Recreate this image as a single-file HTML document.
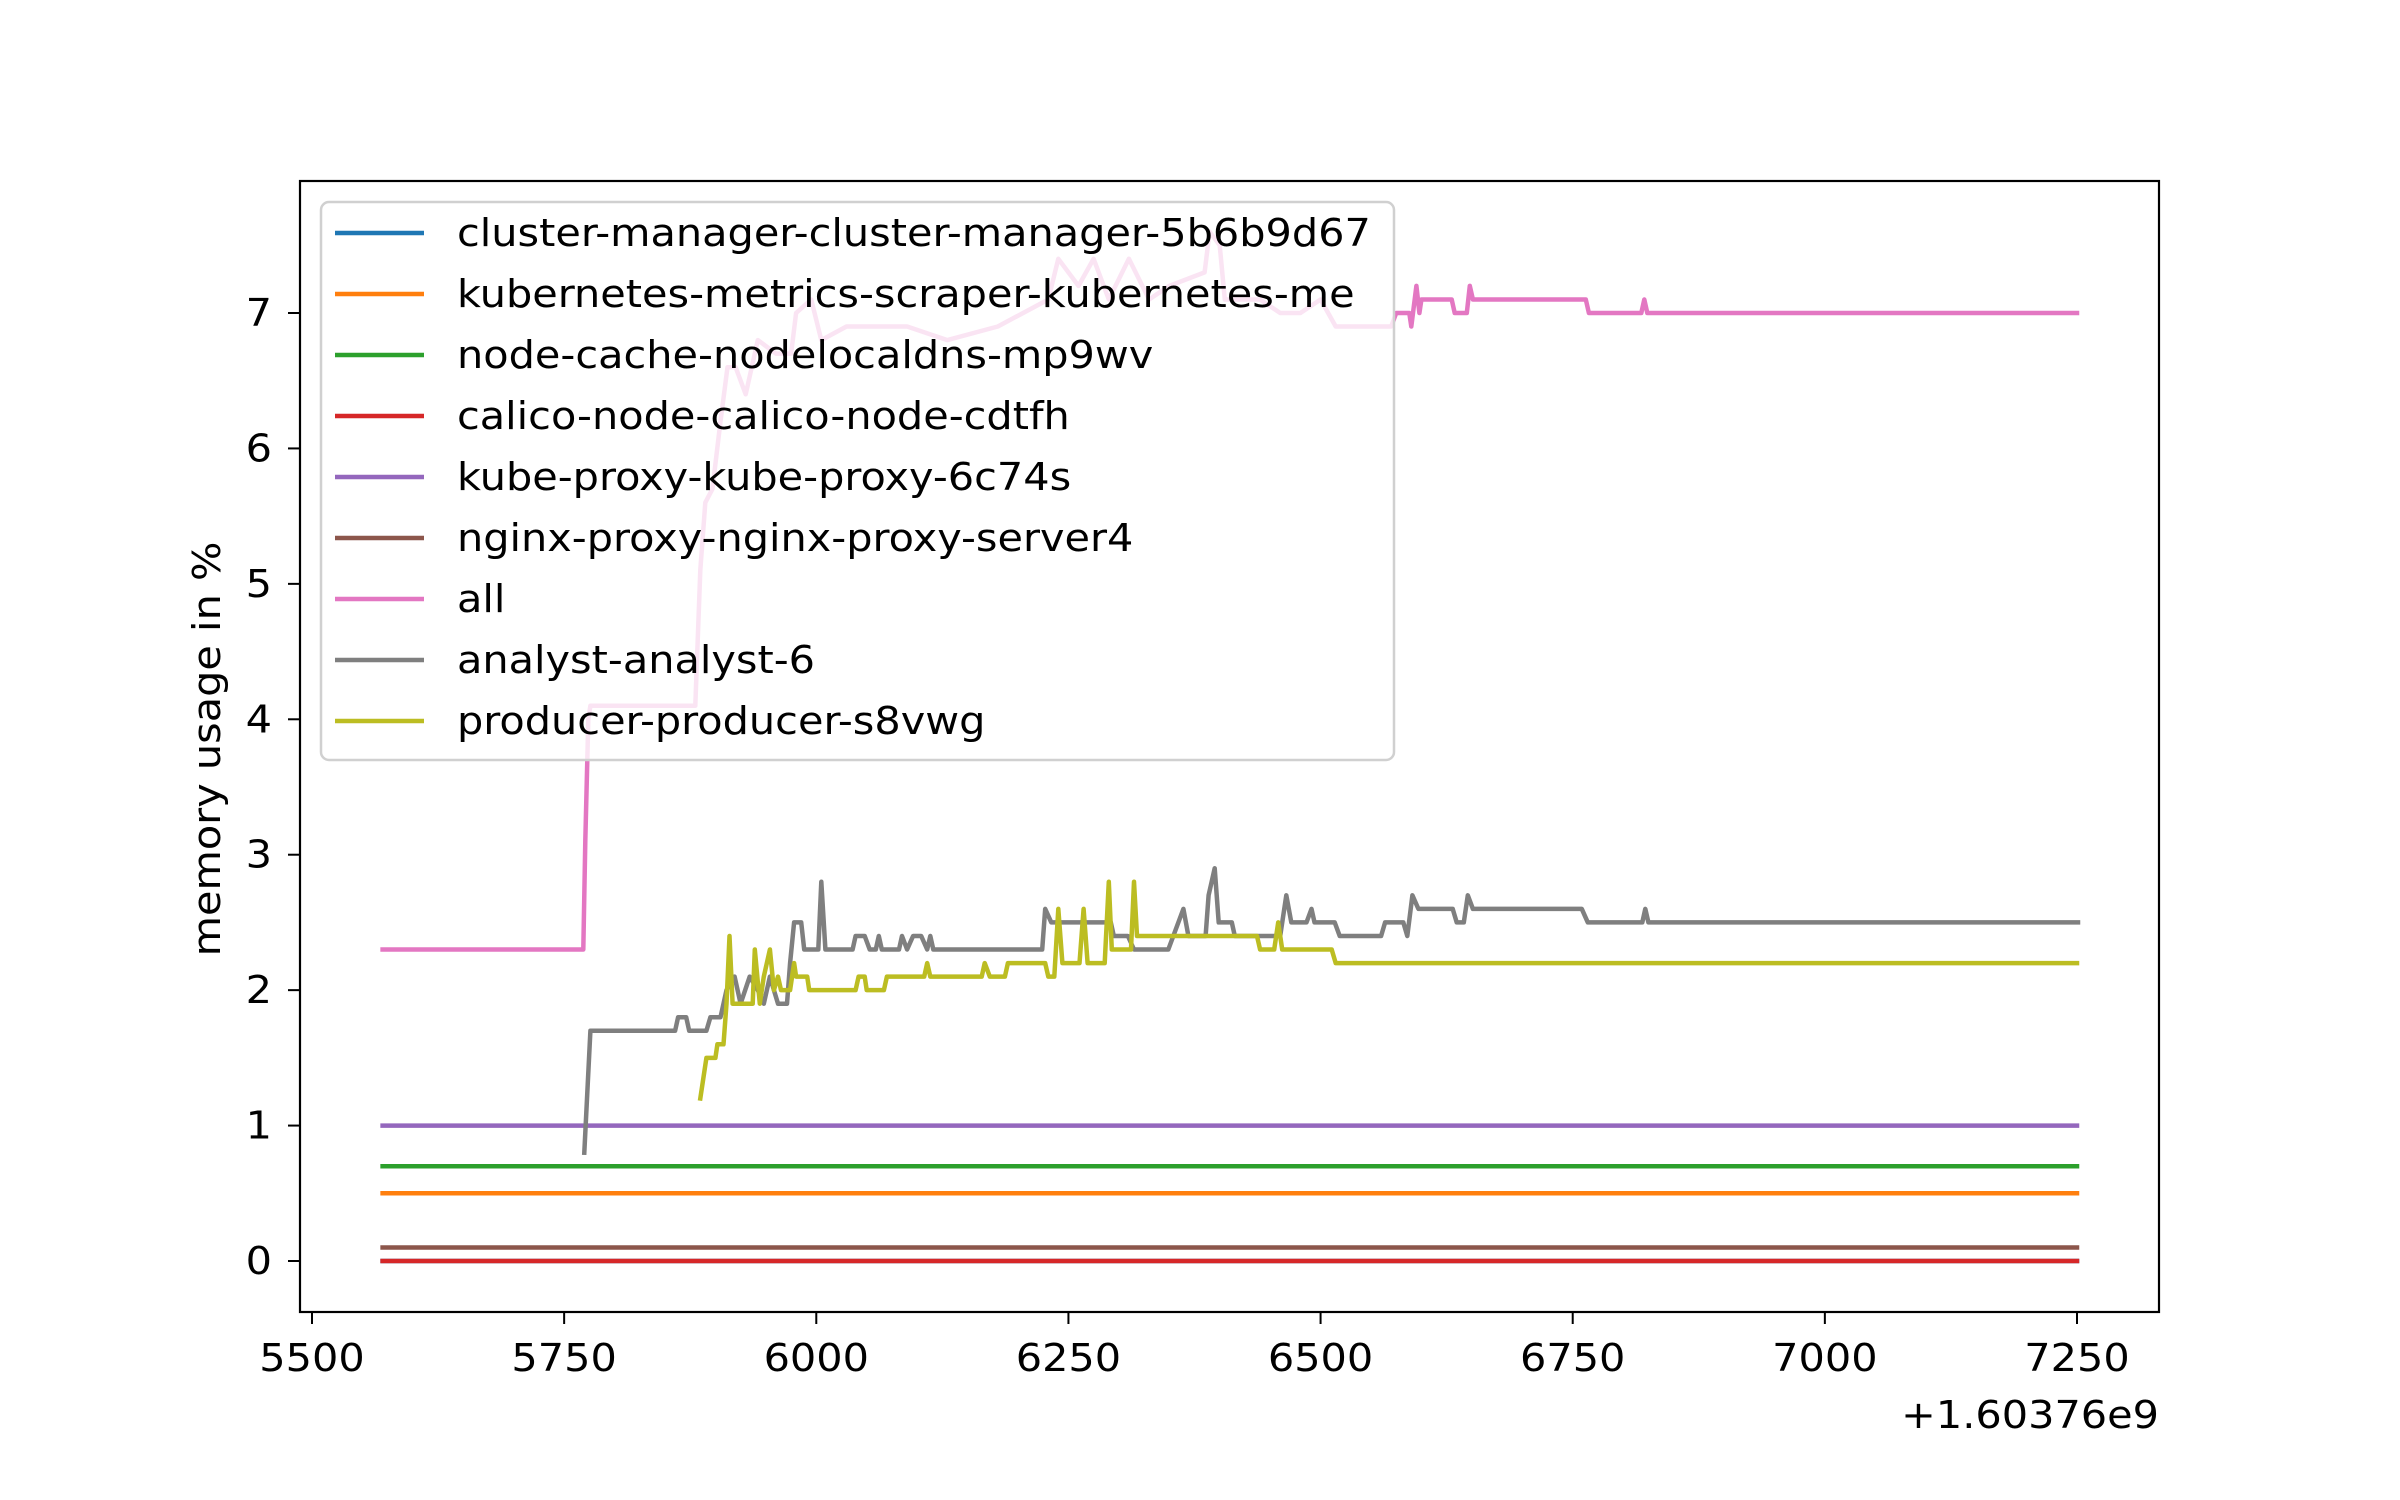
<!DOCTYPE html>
<html><head><meta charset="utf-8"><style>
html,body{margin:0;padding:0;background:#fff;}
svg{display:block;font-family:"DejaVu Sans","Liberation Sans",sans-serif;}
</style></head><body>
<svg id="chart" width="2400" height="1500" viewBox="0 0 2400 1500" xmlns="http://www.w3.org/2000/svg">
<rect width="2400" height="1500" fill="#fff"/>
<g id="series"></g>
<g id="axes"></g>
<g id="legend"></g>
</svg>
<script>
const xTicks = [5500, 5750, 6000, 6250, 6500, 6750, 7000, 7250];
const yTicks = [0, 1, 2, 3, 4, 5, 6, 7];
const seriesNames = ["cluster-manager-cluster-manager-5b6b9d67","kubernetes-metrics-scraper-kubernetes-me","node-cache-nodelocaldns-mp9wv","calico-node-calico-node-cdtfh","kube-proxy-kube-proxy-6c74s","nginx-proxy-nginx-proxy-server4","all","analyst-analyst-6","producer-producer-s8vwg"];
const seriesColors = ["#1f77b4","#ff7f0e","#2ca02c","#d62728","#9467bd","#8c564b","#e377c2","#7f7f7f","#bcbd22"];
const clusterManager = [[5570,0],[7250,0]];
const metricsScraper = [[5570,0.5],[7250,0.5]];
const nodeCache = [[5570,0.7],[7250,0.7]];
const calicoNode = [[5570,0],[7250,0]];
const kubeProxy = [[5570,1.0],[7250,1.0]];
const nginxProxy = [[5570,0.1],[7250,0.1]];
const allSeries = [[5570,2.3],[5769,2.3],[5771,3.1],[5774,4.0],[5776,4.1],[5880,4.1],[5885,5.1],[5890,5.6],[5897,5.7],[5905,6.2],[5912,6.6],[5920,6.6],[5930,6.4],[5942,6.8],[5960,6.7],[5975,6.7],[5980,7.0],[5995,7.1],[6005,6.8],[6030,6.9],[6090,6.9],[6130,6.8],[6180,6.9],[6230,7.1],[6240,7.4],[6260,7.2],[6275,7.4],[6290,7.1],[6310,7.4],[6330,7.1],[6350,7.2],[6385,7.3],[6390,7.6],[6400,7.5],[6405,7.1],[6440,7.1],[6460,7.0],[6480,7.0],[6500,7.1],[6515,6.9],[6570,6.9],[6575,7.0],[6588,7.0],[6590,6.9],[6595,7.2],[6598,7.0],[6600,7.1],[6630,7.1],[6633,7.0],[6645,7.0],[6648,7.2],[6651,7.1],[6763,7.1],[6766,7.0],[6818,7.0],[6821,7.1],[6824,7.0],[7250,7.0]];
const analyst = [[5770,0.8],[5776,1.7],[5860,1.7],[5863,1.8],[5871,1.8],[5874,1.7],[5891,1.7],[5895,1.8],[5905,1.8],[5911,2.0],[5919,2.1],[5925,1.9],[5934,2.1],[5942,2.0],[5948,1.9],[5954,2.1],[5958,2.0],[5962,1.9],[5971,1.9],[5974,2.2],[5978,2.5],[5985,2.5],[5988,2.3],[6002,2.3],[6005,2.8],[6009,2.3],[6036,2.3],[6039,2.4],[6048,2.4],[6053,2.3],[6059,2.3],[6062,2.4],[6065,2.3],[6082,2.3],[6085,2.4],[6090,2.3],[6096,2.4],[6104,2.4],[6110,2.3],[6113,2.4],[6116,2.3],[6224,2.3],[6227,2.6],[6233,2.5],[6292,2.5],[6295,2.4],[6309,2.4],[6315,2.3],[6349,2.3],[6364,2.6],[6369,2.4],[6386,2.4],[6389,2.7],[6395,2.9],[6399,2.5],[6412,2.5],[6415,2.4],[6460,2.4],[6466,2.7],[6471,2.5],[6486,2.5],[6491,2.6],[6494,2.5],[6514,2.5],[6519,2.4],[6560,2.4],[6564,2.5],[6582,2.5],[6586,2.4],[6591,2.7],[6597,2.6],[6631,2.6],[6635,2.5],[6642,2.5],[6646,2.7],[6651,2.6],[6759,2.6],[6765,2.5],[6819,2.5],[6822,2.6],[6825,2.5],[7251,2.5]];
const producer = [[5885,1.2],[5891,1.5],[5900,1.5],[5902,1.6],[5908,1.6],[5911,1.9],[5914,2.4],[5917,1.9],[5937,1.9],[5939,2.3],[5944,1.9],[5948,2.1],[5954,2.3],[5958,2.0],[5962,2.1],[5965,2.0],[5974,2.0],[5978,2.2],[5980,2.1],[5991,2.1],[5993,2.0],[6039,2.0],[6042,2.1],[6048,2.1],[6050,2.0],[6067,2.0],[6070,2.1],[6107,2.1],[6110,2.2],[6113,2.1],[6164,2.1],[6167,2.2],[6172,2.1],[6187,2.1],[6190,2.2],[6227,2.2],[6230,2.1],[6236,2.1],[6240,2.6],[6244,2.2],[6261,2.2],[6265,2.6],[6269,2.2],[6286,2.2],[6290,2.8],[6293,2.3],[6312,2.3],[6315,2.8],[6318,2.4],[6437,2.4],[6440,2.3],[6454,2.3],[6458,2.5],[6462,2.3],[6511,2.3],[6515,2.2],[7250,2.2]];
const seriesData = [clusterManager, metricsScraper, nodeCache, calicoNode, kubeProxy, nginxProxy, allSeries, analyst, producer];
const seriesKeys = ["cluster-manager","metrics-scraper","node-cache","calico-node","kube-proxy","nginx-proxy","all","analyst","producer"];

const NS = "http://www.w3.org/2000/svg";
const L = 300, R = 2159, T = 181, B = 1312;
const FS = 38;
function xs(t){ return 312 + (t - 5500) * (2077 - 312) / 1750; }
function ys(v){ return 1261 - v * (1261 - 313) / 7; }
function mk(tag, attrs, parent){ const e = document.createElementNS(NS, tag); for (const k in attrs) e.setAttribute(k, attrs[k]); parent.appendChild(e); return e; }
const texts = [];

const sg = document.getElementById('series');
seriesData.forEach((d, i) => {
  const p = mk('polyline', {points: d.map(q => xs(q[0]).toFixed(1) + ',' + ys(q[1]).toFixed(1)).join(' '), fill:'none', stroke: seriesColors[i], 'stroke-width': 4.5, 'stroke-linejoin':'round', 'stroke-linecap':'square'}, sg);
  
  
});

const ax = document.getElementById('axes');
const frame = mk('rect', {x:L, y:T, width:R-L, height:B-T, fill:'none', stroke:'#000', 'stroke-width':2.2}, ax);


xTicks.forEach(t => {
  const x = xs(t);
  const tk = mk('line', {x1:x, x2:x, y1:B, y2:B+12, stroke:'#000', 'stroke-width':2}, ax);
  
  
  const lb = mk('text', {x:x, y:1371, 'font-size':FS, 'text-anchor':'middle', fill:'#000'}, ax);
  lb.textContent = t;
  
  
  texts.push(lb);
});
yTicks.forEach(v => {
  const y = ys(v);
  const tk = mk('line', {x1:L-12, x2:L, y1:y, y2:y, stroke:'#000', 'stroke-width':2}, ax);
  
  
  const lb = mk('text', {x:272, y:y+13, 'font-size':FS, 'text-anchor':'end', fill:'#000'}, ax);
  lb.textContent = v;
  
  
  texts.push(lb);
});
const off = mk('text', {x:R, y:1428, 'font-size':FS, 'text-anchor':'end', fill:'#000'}, ax);
off.textContent = '+1.60376e9';


texts.push(off);
const yt = mk('text', {x:0, y:0, 'font-size':FS, 'text-anchor':'middle', fill:'#000', transform:'translate(220,749) rotate(-90)'}, ax);
yt.textContent = 'memory usage in %';


texts.push(yt);

const lg = document.getElementById('legend');
const box = mk('rect', {x:321, y:202, width:1073, height:558, rx:8, fill:'rgba(255,255,255,0.8)', stroke:'#d0d0d0', 'stroke-width':2.5}, lg);


seriesNames.forEach((n, i) => {
  const y = 233 + i * 61;
  const h = mk('line', {x1:335, x2:424, y1:y, y2:y, stroke:seriesColors[i], 'stroke-width':4.5}, lg);
  
  
  const tx = mk('text', {x:457, y:y+13, 'font-size':FS, fill:'#000'}, lg);
  tx.textContent = n;
  
  
  texts.push(tx);
});
// widen glyphs slightly to match reference text widths
texts.forEach(t => {
  const w = t.getComputedTextLength();
  if (w > 0) { t.setAttribute('textLength', (w * 1.09).toFixed(1)); t.setAttribute('lengthAdjust', 'spacingAndGlyphs'); }
});
</script>
</body></html>
